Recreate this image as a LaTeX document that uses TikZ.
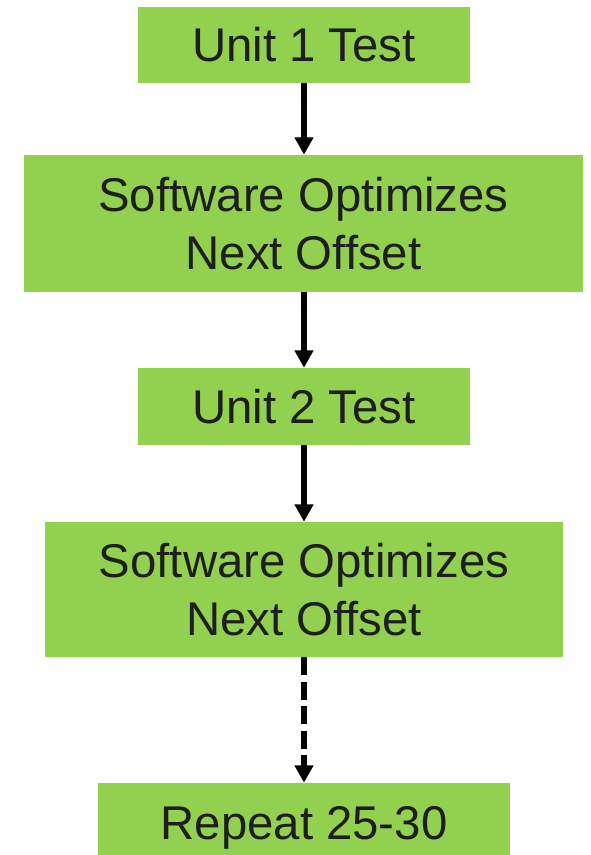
\documentclass[tikz,border=0pt]{standalone}
\usepackage{fontspec}
\setmainfont{Liberation Sans}
\usetikzlibrary{arrows.meta}
\definecolor{boxgreen}{HTML}{92D050}
\definecolor{txt}{HTML}{1E1E1E}
\tikzset{
  box/.style={fill=boxgreen, draw=none, inner sep=0pt, align=center, text=txt,
    font=\fontsize{35.5pt}{43.5pt}\selectfont, text height=25.2pt, text depth=0pt},
  twoline/.style={text height=68.7pt, text depth=0pt},
  flow/.style={line width=4.3pt, -{Triangle[length=13pt,width=13.5pt]}},
  flowdash/.style={flow, dash pattern=on 13.5pt off 4.9pt}
}
\begin{document}
\begin{tikzpicture}[x=0.75pt,y=-0.75pt]
\useasboundingbox (0,0) rectangle (591,855);
\clip (0,0) rectangle (591,855);
\node[box, minimum width=249pt, minimum height=57pt] (b1) at (304,45) {Unit 1 Test};
\node[box, twoline, minimum width=419.25pt, minimum height=102.75pt] (b2) at (303.5,223.5) {Software Optimizes\\Next Offset};
\node[box, minimum width=249pt, minimum height=57.75pt] (b3) at (304,406.5) {Unit 2 Test};
\node[box, twoline, minimum width=388.5pt, minimum height=101.25pt] (b4) at (304,589.5) {Software Optimizes\\Next Offset};
\node[box, minimum width=309pt, minimum height=60pt] (b5) at (304,823) {Repeat 25-30};
\draw[flow] (b1.south) -- (b1.south |- b2.north);
\draw[flow] (b2.south -| b1.south) -- (b3.north);
\draw[flow] (b3.south) -- (b3.south |- b4.north);
\draw[flowdash] (b4.south) -- (b5.north);
\end{tikzpicture}
\end{document}
